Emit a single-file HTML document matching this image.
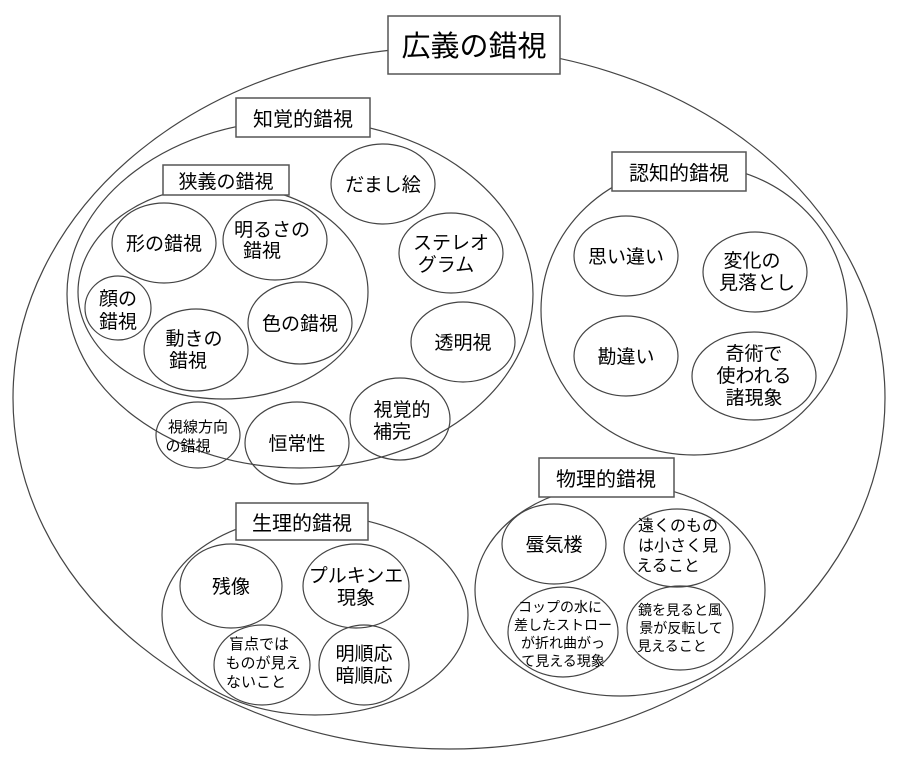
<!DOCTYPE html>
<html><head><meta charset="utf-8"><style>
html,body{margin:0;padding:0;background:#fff;}
svg{display:block;}
text{font-family:"Liberation Sans","Noto Sans CJK JP",sans-serif;fill:#000;text-anchor:middle;}
ellipse{fill:none;stroke:#444;stroke-width:1.2;}
rect{fill:#fff;stroke:#555;stroke-width:1.5;}
</style></head><body>
<svg width="900" height="762" viewBox="0 0 900 762">
<ellipse cx="449" cy="398" rx="436" ry="351"/>
<ellipse cx="300" cy="294" rx="233" ry="174"/>
<ellipse cx="223" cy="292" rx="145" ry="107"/>
<ellipse cx="694" cy="310" rx="153" ry="145"/>
<ellipse cx="620" cy="590" rx="145" ry="106"/>
<ellipse cx="315" cy="615" rx="153" ry="100"/>

<rect x="388" y="16" width="172" height="58"/>
<text x="474" y="56" font-size="29">広義の錯視</text>
<rect x="236" y="98" width="134" height="39"/>
<text x="303" y="126" font-size="20">知覚的錯視</text>
<rect x="163" y="165" width="126" height="30"/>
<text x="226" y="188" font-size="19">狭義の錯視</text>
<rect x="612" y="152" width="134" height="39"/>
<text x="679" y="180" font-size="20">認知的錯視</text>
<rect x="539" y="458" width="135" height="39"/>
<text x="606" y="486" font-size="20">物理的錯視</text>
<rect x="236" y="503" width="132" height="37"/>
<text x="302" y="530" font-size="20">生理的錯視</text>

<g font-size="19">
<ellipse cx="164" cy="243" rx="52" ry="40"/><text x="164" y="250">形の錯視</text>
<ellipse cx="275" cy="240" rx="52" ry="40"/><text x="272" y="236">明るさの</text><text x="262" y="257" >錯視</text>
<ellipse cx="118" cy="308" rx="33" ry="32"/><text x="118" y="305">顔の</text><text x="118" y="328">錯視</text>
<ellipse cx="196" cy="350" rx="52" ry="41"/><text x="194" y="345">動きの</text><text x="188" y="367">錯視</text>
<ellipse cx="300" cy="323" rx="52" ry="41"/><text x="300" y="330">色の錯視</text>
<ellipse cx="383" cy="184" rx="52" ry="40"/><text x="383" y="191">だまし絵</text>
<ellipse cx="451" cy="253" rx="52" ry="40"/><text x="451" y="249">ステレオ</text><text x="446" y="271">グラム</text>
<ellipse cx="463" cy="342" rx="52" ry="40"/><text x="463" y="349">透明視</text>
<ellipse cx="400" cy="419" rx="50" ry="41"/><text x="402" y="416">視覚的</text><text x="392" y="438">補完</text>
<ellipse cx="297" cy="443" rx="52" ry="41"/><text x="297" y="450">恒常性</text>
<ellipse cx="626" cy="256" rx="52" ry="40"/><text x="626" y="263">思い違い</text>
<ellipse cx="755" cy="272" rx="52" ry="40"/><text x="752" y="267">変化の</text><text x="757" y="289">見落とし</text>
<ellipse cx="626" cy="356" rx="52" ry="40"/><text x="626" y="363">勘違い</text>
<ellipse cx="754" cy="376" rx="62" ry="44"/><text x="754" y="360">奇術で</text><text x="754" y="382">使われる</text><text x="754" y="404">諸現象</text>
<ellipse cx="554" cy="544" rx="52" ry="40"/><text x="554" y="551">蜃気楼</text>
<ellipse cx="231" cy="586" rx="51" ry="42"/><text x="231" y="593">残像</text>
<ellipse cx="356" cy="586" rx="53" ry="42"/><text x="356" y="582">プルキンエ</text><text x="356" y="604">現象</text>
<ellipse cx="364" cy="665" rx="45" ry="40"/><text x="364" y="660">明順応</text><text x="364" y="682">暗順応</text>
</g>
<g font-size="15">
<ellipse cx="198" cy="435" rx="42" ry="33"/><text x="198" y="432">視線方向</text><text x="188" y="451">の錯視</text>
<ellipse cx="262" cy="665" rx="48" ry="40"/><text x="259" y="649">盲点では</text><text x="263" y="668">ものが見え</text><text x="256" y="687">ないこと</text>
</g>
<g font-size="16">
<ellipse cx="677" cy="548" rx="53" ry="39"/><text x="678" y="531">遠くのもの</text><text x="678" y="551">は小さく見</text><text x="668" y="571">えること</text>
</g>
<g font-size="14">
<ellipse cx="563" cy="632" rx="55" ry="45"/><text x="560" y="612">コップの水に</text><text x="563" y="630">差したストロー</text><text x="563" y="648">が折れ曲がっ</text><text x="563" y="666">て見える現象</text>
<ellipse cx="680" cy="628" rx="53" ry="42"/><text x="680" y="615">鏡を見ると風</text><text x="681" y="633">景が反転して</text><text x="672" y="651">見えること</text>
</g>
</svg>
</body></html>
